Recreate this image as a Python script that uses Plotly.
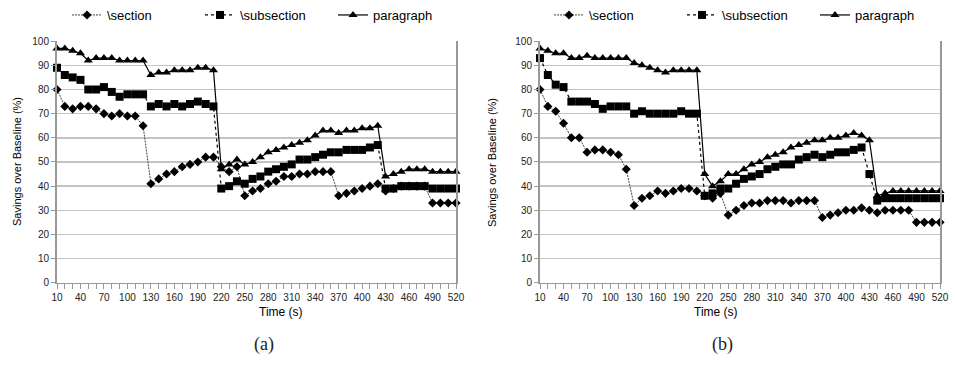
import plotly.graph_objects as go

time_s = [10, 20, 30, 40, 50, 60, 70, 80, 90, 100, 110, 120, 130, 140, 150, 160, 170, 180,
          190, 200, 210, 220, 230, 240, 250, 260, 270, 280, 290, 300, 310, 320, 330, 340,
          350, 360, 370, 380, 390, 400, 410, 420, 430, 440, 450, 460, 470, 480, 490, 500,
          510, 520]
x_tick_labels = [10, 40, 70, 100, 130, 160, 190, 220, 250, 280, 310, 340, 370, 400, 430, 460, 490, 520]
y_tick_labels = [0, 10, 20, 30, 40, 50, 60, 70, 80, 90, 100]

series_names = ["\\section", "\\subsection", "paragraph"]

# ---- chart (a)
section_a = [80, 73, 72, 73, 73, 72, 70, 69, 70, 69, 69, 65,
             41, 43, 45, 46, 48, 49, 50, 52, 52,
             48, 46, 48,
             36, 38, 39, 41, 42, 44, 44, 45, 45, 46, 46, 46,
             36, 37, 38, 39, 40, 41,
             38, 39, 40, 40, 40, 40,
             33, 33, 33, 33]
subsection_a = [89, 86, 85, 84, 80, 80, 81, 79, 77, 78, 78, 78,
                73, 74, 73, 74, 73, 74, 75, 74, 73,
                39, 40, 42, 41, 43, 44, 46, 47, 48, 49, 51, 51, 52, 53, 54, 54, 55, 55, 55, 56, 57,
                39, 39, 40, 40, 40, 40, 39, 39, 39, 39]
paragraph_a = [97, 97, 96, 95, 92, 93, 93, 93, 92, 92, 92, 92,
               86, 87, 87, 88, 88, 88, 89, 89, 88,
               47, 49, 51, 49, 50, 52, 54, 55, 56, 57, 58, 59, 61, 63, 63, 62, 63, 63, 64, 64, 65,
               44, 45, 46, 47, 47, 47, 46, 46, 46, 46]

# ---- chart (b)
section_b = [80, 73, 71, 66, 60, 60, 54, 55, 55, 54, 53, 47,
             32, 35, 36, 38, 37, 38, 39, 39, 38,
             36, 35, 37,
             28, 30, 32, 33, 33, 34, 34, 34, 33, 34, 34, 34,
             27, 28, 29, 30, 30, 31,
             30, 29, 30, 30, 30, 30,
             25, 25, 25, 25]
subsection_b = [93, 86, 82, 81, 75, 75, 75, 74, 72, 73, 73, 73,
                70, 71, 70, 70, 70, 70, 71, 70, 70,
                36, 37, 39, 39, 41, 43, 44, 45, 47, 48, 49, 49, 51, 52, 53, 52, 53, 54, 54, 55, 56,
                45, 34, 35, 35, 35, 35, 35, 35, 35, 35]
paragraph_b = [97, 96, 95, 95, 93, 93, 94, 93, 93, 93, 93, 93,
               91, 90, 89, 88, 87, 88, 88, 88, 88,
               45, 40, 42, 45, 45, 47, 49, 50, 52, 53, 54, 56, 57, 58, 59, 59, 60, 60, 61, 62, 61,
               59, 36, 37, 38, 38, 38, 38, 38, 38, 38]

W, H = 956, 377
FONT = "Liberation Sans, Arial, sans-serif"

styles = [
    dict(line=dict(color="#444444", width=1, dash="2px,1px"),
         marker=dict(symbol="diamond", size=7, color="black")),
    dict(line=dict(color="black", width=1.2, dash="dot"),
         marker=dict(symbol="square", size=8, color="black")),
    dict(line=dict(color="black", width=1.2, dash="solid"),
         marker=dict(symbol="triangle-up", size=8, color="black")),
]

fig = go.Figure()

panels = [
    ("x", "y", "legend", [section_a, subsection_a, paragraph_a]),
    ("x2", "y2", "legend2", [section_b, subsection_b, paragraph_b]),
]
for xa, ya, lg, data in panels:
    for name, vals, st in zip(series_names, data, styles):
        fig.add_trace(go.Scatter(
            x=time_s, y=vals, name=name, mode="lines+markers",
            line=st["line"], marker=st["marker"], xaxis=xa, yaxis=ya,
            legend=lg, cliponaxis=False,
        ))

y_bot = 1 - 282 / H
y_top = 1 - 38.5 / H
doms = [(57 / W, 456 / W), (540 / W, 940 / W)]

def xaxis_cfg(dom, anchor):
    return dict(
        domain=list(dom), anchor=anchor, range=[10, 520],
        tickmode="array", tickvals=x_tick_labels, ticktext=[str(v) for v in x_tick_labels],
        ticks="outside", ticklen=5, tickcolor="#999999", tickwidth=1,
        minor=dict(tickmode="linear", tick0=10, dtick=10, ticks="outside", ticklen=5,
                   tickcolor="#999999", showgrid=False),
        showline=True, linecolor="#999999", linewidth=1.5,
        showgrid=False, zeroline=False,
        tickfont=dict(family=FONT, size=10, color="#222222"),
        automargin=False,
    )

def yaxis_cfg(anchor):
    return dict(
        domain=[y_bot, y_top], anchor=anchor, range=[0, 100],
        tickmode="array", tickvals=y_tick_labels,
        ticks="outside", ticklen=4, tickcolor="#999999",
        showline=True, linecolor="#999999", linewidth=2, mirror=True,
        showgrid=True, gridcolor="#c4c4c4", gridwidth=1.5,
        zeroline=False,
        tickfont=dict(family=FONT, size=10, color="#222222"),
        automargin=False,
    )

legend_common = dict(
    orientation="h", yanchor="middle", y=1 - 12 / H, xanchor="left",
    font=dict(family=FONT, size=13, color="black"),
    bgcolor="rgba(0,0,0,0)", borderwidth=0,
    entrywidth=88, entrywidthmode="pixels",
    itemclick=False, itemdoubleclick=False,
)

annotations = []
for (d0, d1), lbl in zip(doms, ["(a)", "(b)"]):
    cx = (d0 + d1) / 2
    annotations.append(dict(text="Time (s)", x=cx, y=1 - 321 / H, xref="paper", yref="paper",
                            showarrow=False, font=dict(family=FONT, size=12, color="black")))
    annotations.append(dict(text=lbl, x=cx - 0.005, y=1 - 357 / H, xref="paper", yref="paper",
                            showarrow=False,
                            font=dict(family="Liberation Serif, DejaVu Serif, serif", size=18,
                                      color="#222222")))
    annotations.append(dict(text="Savings over Baseline (%)", x=d0 - 48 / W,
                            y=(y_bot + y_top) / 2, xref="paper", yref="paper",
                            textangle=-90, showarrow=False,
                            font=dict(family=FONT, size=11, color="black")))

fig.update_layout(
    width=W, height=H,
    margin=dict(l=0, r=0, t=0, b=0),
    paper_bgcolor="white", plot_bgcolor="white",
    xaxis=xaxis_cfg(doms[0], "y"),
    yaxis=yaxis_cfg("x"),
    xaxis2=xaxis_cfg(doms[1], "y2"),
    yaxis2=yaxis_cfg("x2"),
    legend=dict(legend_common, x=67 / W),
    legend2=dict(legend_common, x=549 / W),
    annotations=annotations,
    showlegend=True,
)

fig.write_html(
    "out.html",
    config={"displayModeBar": False, "staticPlot": True},
    post_script="document.body.style.margin='0';document.body.style.padding='0';document.body.style.overflow='hidden';",
)
